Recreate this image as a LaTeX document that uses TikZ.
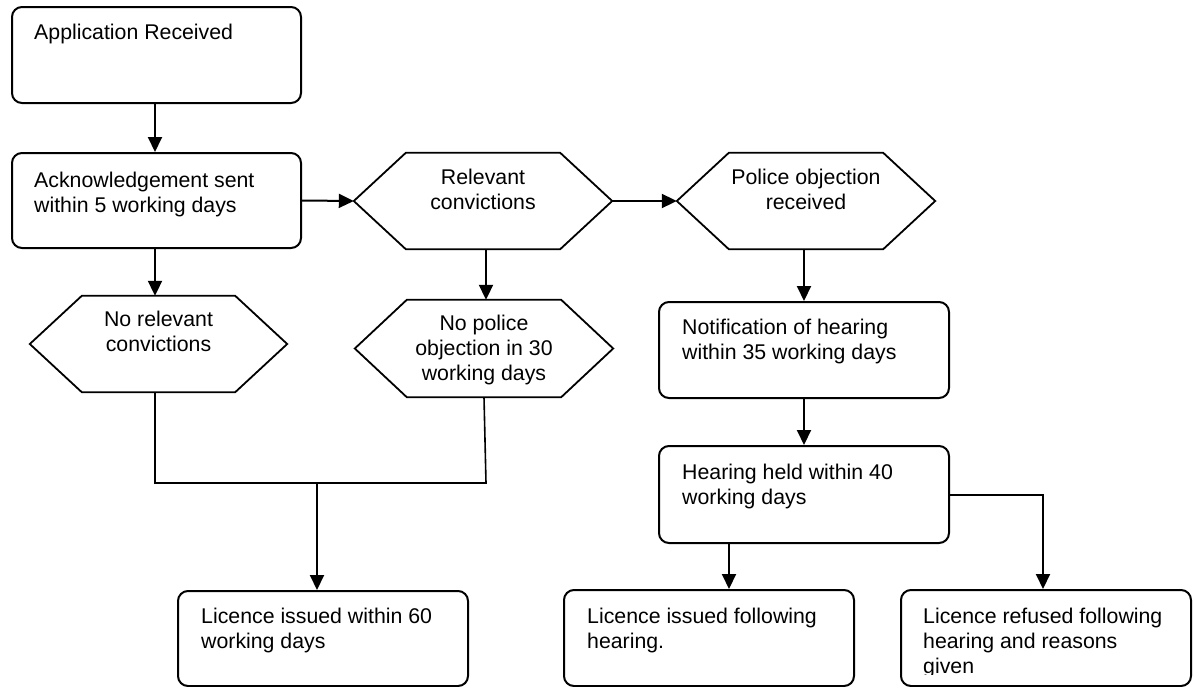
\documentclass[tikz,border=0pt]{standalone}
\usepackage{fontspec}
\setmainfont{Liberation Sans}
\usetikzlibrary{arrows.meta}
\newcommand{\hexdraw}[1]{\draw[hexline] (#1.west) -- ([xshift=52]#1.north west) -- ([xshift=-52]#1.north east) -- (#1.east) -- ([xshift=-52]#1.south east) -- ([xshift=52]#1.south west) -- cycle;}
\begin{document}
\begin{tikzpicture}[x=1pt,y=-1pt,
  box/.style 2 args={draw, line width=2pt, rounded corners=10pt, anchor=north west, inner sep=0pt, minimum width=#1, minimum height=#2},
  hexa/.style 2 args={inner sep=0pt, minimum width=#1, minimum height=#2},
  hexline/.style={line width=1.8pt, line join=miter},
  txt/.style={font=\fontsize{21.3}{25}\selectfont, inner sep=0pt, align=left},
  ctxt/.style={font=\fontsize{21.3}{25}\selectfont, inner sep=0pt, align=center},
  arr/.style={line width=2pt, -{Triangle[length=15pt,width=14pt]}},
  joinline/.style={line width=1.6pt}]
\useasboundingbox[fill=white] (0,0) rectangle (1197,686);

% rectangles
\node[box={289}{96}] (b1) at (11,6) {};
\node[box={289}{95}] (b2) at (11,152) {};
\node[box={290}{96}] (b5) at (658,301) {};
\node[box={290}{97}] (b6) at (658,445) {};
\node[box={290}{95}] (b7) at (177,590) {};
\node[box={290}{96}] (b8) at (563,589) {};
\node[box={290}{96}] (b9) at (900,589) {};

% hexagons
\node[hexa={258}{96}] (h1) at (483,201) {};
\node[hexa={258}{96}] (h2) at (806,201) {};
\node[hexa={257}{96}] (h3) at (158.5,344) {};
\node[hexa={258}{97}] (h4) at (484,348.5) {};
\hexdraw{h1}
\hexdraw{h2}
\hexdraw{h3}
\hexdraw{h4}

% texts (base anchor = baseline of the last line)
\node[txt, anchor=base west] (t1) at ([xshift=23,yshift=-33]b1.north west) {Application Received};
\node[txt, anchor=base west] (t2) at ([xshift=23,yshift=-60]b2.north west) {Acknowledgement sent\\within 5 working days};
\node[txt, anchor=base west] (t5) at ([xshift=24,yshift=-58]b5.north west) {Notification of hearing\\within 35 working days};
\node[txt, anchor=base west] (t6) at ([xshift=24,yshift=-59]b6.north west) {Hearing held within 40\\working days};
\node[txt, anchor=base west] (t7) at ([xshift=24,yshift=-58]b7.north west) {Licence issued within 60\\working days};
\node[txt, anchor=base west] (t8) at ([xshift=24,yshift=-59]b8.north west) {Licence issued following\\hearing.};
\begin{scope}
\clip (900,589) rectangle (1190,674);
\node[txt, anchor=base west] (t9) at ([xshift=23,yshift=-84]b9.north west) {Licence refused following\\hearing and reasons\\given};
\end{scope}
\node[ctxt, anchor=base] (th1) at ([yshift=-57]h1.north) {Relevant\\convictions};
\node[ctxt, anchor=base] (th2) at ([yshift=-57]h2.north) {Police objection\\received};
\node[ctxt, anchor=base] (th3) at ([yshift=-56]h3.north) {No relevant\\convictions};
\node[ctxt, anchor=base] (th4) at ([yshift=-81]h4.north) {No police\\objection in 30\\working days};

% connectors
\draw[arr] ([xshift=-1.5]b1.south) -- ([xshift=-1.5]b2.north);
\draw[arr] (b2.east) -- (h1.west);
\draw[arr] (h1.east) -- (h2.west);
\draw[arr] ([xshift=-1.5]b2.south) -- ([xshift=-1.5]b2.south |- h3.north);
\draw[arr] ([xshift=3]h1.south) -- ([xshift=3]h1.south |- h4.north);
\draw[arr] (b5.north |- h2.south) -- (b5.north);
\draw[arr] (b5.south) -- (b6.north);
\coordinate (c1) at ([xshift=71]b6.south west);
\draw[arr] (c1) -- (c1 |- b8.north);
\draw[arr] (b6.east) -| ([xshift=-3]b9.north);

\coordinate (j) at (317,483);
\draw[joinline] ([xshift=-1.5]b2.south |- h3.south) |- (j);
\draw[joinline] (h4.south) -- ([xshift=2]h4.south |- j) -- (j);
\draw[arr] (j) -- (j |- b7.north);
\end{tikzpicture}
\end{document}
